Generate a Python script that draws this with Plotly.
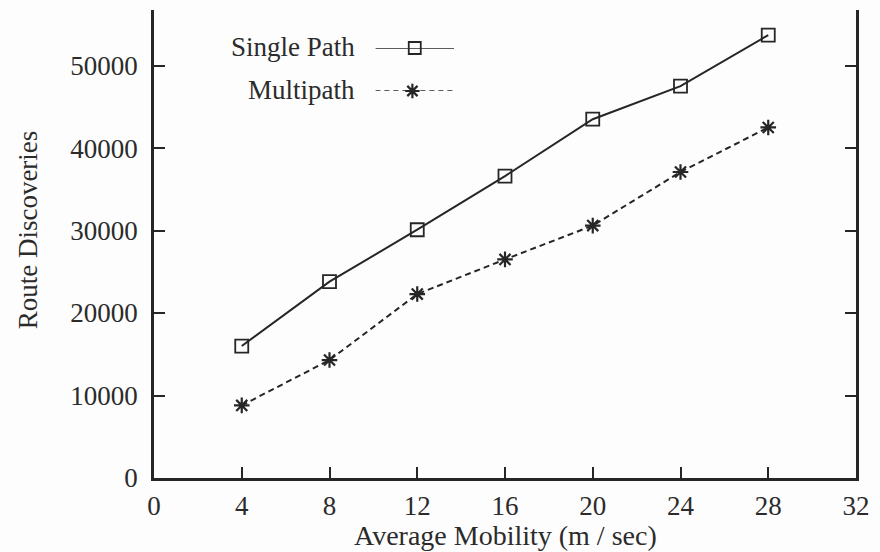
import plotly.graph_objects as go

mobility = [4, 8, 12, 16, 20, 24, 28]
single_path = [16000, 23800, 30100, 36600, 43500, 47500, 53700]
multipath = [8800, 14300, 22300, 26500, 30600, 37100, 42500]
x_ticks = [0, 4, 8, 12, 16, 20, 24, 28, 32]
y_ticks = [0, 10000, 20000, 30000, 40000, 50000]

INK = "#262626"
TXT = "#2b2b2b"
FONT = "Liberation Serif"
FS = 27

fig = go.Figure()
fig.add_trace(go.Scatter(
    x=mobility, y=single_path, mode="lines+markers", name="Single Path",
    line=dict(color=INK, width=2),
    marker=dict(symbol="square-open", size=13, color=INK, line=dict(width=1.8, color=INK)),
    showlegend=False, cliponaxis=False))
fig.add_trace(go.Scatter(
    x=mobility, y=multipath, mode="lines+markers", name="Multipath",
    line=dict(color=INK, width=2, dash="6px,4px"),
    marker=dict(symbol="asterisk-open", size=13, color=INK, line=dict(width=2.2, color=INK)),
    showlegend=False, cliponaxis=False))

# custom legend keys (text left of sample), drawn in a hidden overlay axis
fig.add_trace(go.Scatter(x=[0, 1], y=[1, 1], mode="lines", xaxis="x2", yaxis="y2",
                         line=dict(color=INK, width=1.5), showlegend=False, hoverinfo="skip",
                         cliponaxis=False))
fig.add_trace(go.Scatter(x=[0.5], y=[1], mode="markers", xaxis="x2", yaxis="y2",
                         marker=dict(symbol="square-open", size=12, color=INK, line=dict(width=1.8, color=INK)),
                         showlegend=False, hoverinfo="skip", cliponaxis=False))
fig.add_trace(go.Scatter(x=[0, 1], y=[0, 0], mode="lines", xaxis="x2", yaxis="y2",
                         line=dict(color=INK, width=1.5, dash="5px,4px"), showlegend=False, hoverinfo="skip",
                         cliponaxis=False))
fig.add_trace(go.Scatter(x=[0.47], y=[0], mode="markers", xaxis="x2", yaxis="y2",
                         marker=dict(symbol="asterisk-open", size=12, color=INK, line=dict(width=2.2, color=INK)),
                         showlegend=False, hoverinfo="skip", cliponaxis=False))

axis_common = dict(
    showgrid=False, zeroline=False, showline=True, linecolor=INK, linewidth=2.5,
    ticks="inside", ticklen=11, tickwidth=2, tickcolor=INK,
    tickfont=dict(family=FONT, size=FS, color=TXT),
)

PLOT_TOP, PLOT_BOT = 10, 478
PH = PLOT_BOT - PLOT_TOP


def py(pix):
    return 1 - (pix - PLOT_TOP) / PH


def px(pix):
    return (pix - 154) / 704


fig.update_layout(
    width=880, height=552,
    margin=dict(l=154, r=22, t=PLOT_TOP, b=552 - PLOT_BOT),
    paper_bgcolor="#fdfdfd", plot_bgcolor="#fdfdfd",
    font=dict(family=FONT, color=TXT),
    xaxis=dict(range=[0, 32], tickvals=x_ticks, ticklabelstandoff=2, **axis_common),
    yaxis=dict(range=[0, 56740], tickvals=y_ticks, tickformat="d", mirror="ticks",
               ticklabelstandoff=8, **axis_common),
    xaxis2=dict(domain=[px(376), px(455)], range=[0, 1], visible=False, anchor="y2"),
    yaxis2=dict(domain=[py(91), py(48)], range=[0, 1], visible=False, anchor="x2"),
    showlegend=False,
)

fig.add_annotation(text="Single Path", xref="paper", yref="paper", x=px(358),
                   y=py(47), xanchor="right", yanchor="middle", showarrow=False,
                   font=dict(family=FONT, size=FS, color=TXT))
fig.add_annotation(text="Multipath", xref="paper", yref="paper", x=px(358),
                   y=py(90), xanchor="right", yanchor="middle", showarrow=False,
                   font=dict(family=FONT, size=FS, color=TXT))
fig.add_annotation(text="Average Mobility (m / sec)", xref="paper", yref="paper", x=px(506),
                   y=py(535), xanchor="center", yanchor="middle", showarrow=False,
                   font=dict(family=FONT, size=28, color=TXT))
fig.add_annotation(text="Route Discoveries", xref="paper", yref="paper", x=px(28),
                   y=py(230), xanchor="center", yanchor="middle", showarrow=False, textangle=-90,
                   font=dict(family=FONT, size=FS, color=TXT))

fig.write_html("out.html")
